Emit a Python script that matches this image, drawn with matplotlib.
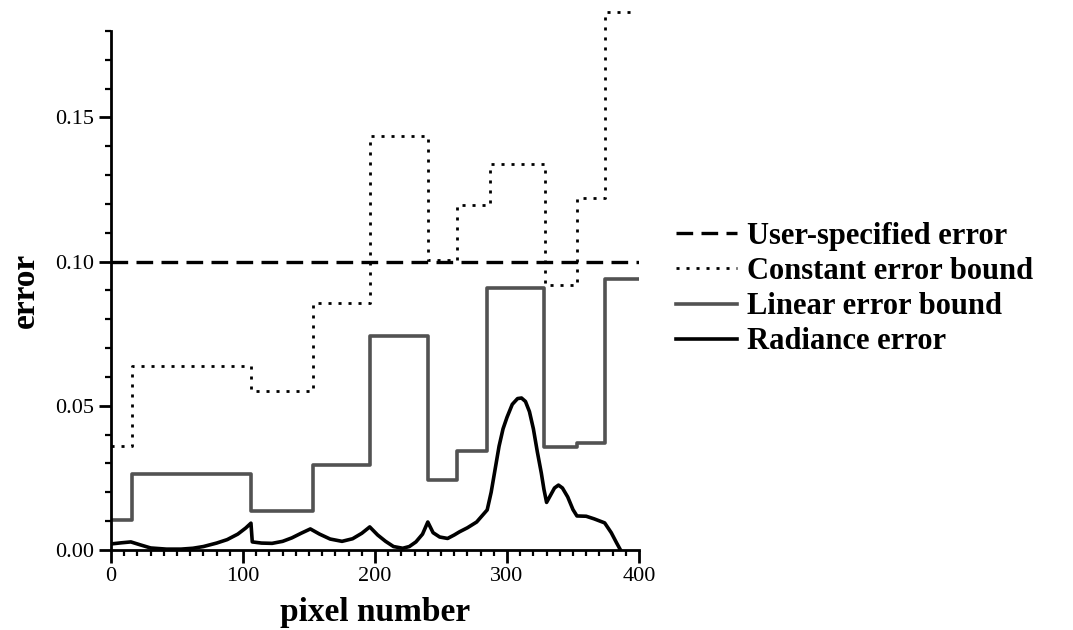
import numpy as np
import matplotlib
matplotlib.use("Agg")
import matplotlib.pyplot as plt
from matplotlib.ticker import MultipleLocator, FormatStrFormatter

plt.rcParams['font.family'] = ['Liberation Serif', 'DejaVu Serif']

# user-specified error
user_err = 0.10

# constant error bound (step edges / levels)
const_edges = [0, 16, 106, 153, 196, 240, 262, 287, 329, 353, 374, 397]
const_vals = [0.036, 0.0638, 0.0552, 0.0857, 0.1437, 0.1006, 0.1197, 0.134, 0.092, 0.122, 0.1867]

# linear error bound
lin_edges = [0, 16, 106, 153, 196, 240, 262, 285, 328, 353, 374, 399]
lin_vals = [0.0104, 0.0264, 0.0135, 0.0295, 0.0741, 0.0243, 0.0343, 0.0909, 0.0357, 0.0371, 0.094]

# radiance error
rad_x = [0, 8, 15, 22, 30, 42, 53, 62, 70, 80, 88, 96, 102, 106, 107, 114, 122, 130, 137,
         144, 151, 158, 166, 175, 183, 190, 196, 202, 208, 214, 221, 226, 231, 236, 240,
         244, 249, 255, 260, 264, 270, 277, 285, 288, 291, 294, 297, 300, 304, 308, 311,
         314, 317, 320, 323, 326, 328, 330, 333, 336, 339, 342, 346, 350, 353, 360, 366,
         374, 379, 383, 386]
rad_y = [0.0021, 0.0025, 0.0028, 0.0018, 0.0007, 0.0003, 0.0003, 0.0006, 0.0012, 0.0024,
         0.0036, 0.0055, 0.0076, 0.0093, 0.0028, 0.0024, 0.0023, 0.003, 0.0042, 0.0058,
         0.0073, 0.0055, 0.0038, 0.003, 0.0039, 0.0058, 0.008, 0.0052, 0.003, 0.0012,
         0.0006, 0.0012, 0.0028, 0.0055, 0.0097, 0.006, 0.0045, 0.004, 0.0052, 0.0063,
         0.0077, 0.0097, 0.0139, 0.02, 0.028, 0.036, 0.042, 0.046, 0.0505, 0.0525, 0.0527,
         0.0515, 0.048, 0.042, 0.034, 0.0267, 0.021, 0.0165, 0.019, 0.0215, 0.0225, 0.0215,
         0.0184, 0.014, 0.0118, 0.0117, 0.0108, 0.0094, 0.006, 0.0025, 0.0]

fig = plt.figure(figsize=(10.73, 6.3), dpi=100)
ax = fig.add_axes([0.1035, 0.127, 0.492, 0.824])

ax.axhline(user_err, xmin=0, xmax=1, color='black', lw=2.4, ls=(0, (5, 2.5)),
           label='User-specified error')
ax.step(const_edges, const_vals + [const_vals[-1]], where='post', color='black', lw=2.0,
        ls=(0, (1.1, 2.5)), clip_on=False, label='Constant error bound')
ax.step(lin_edges, lin_vals + [lin_vals[-1]], where='post', color='0.32', lw=2.6,
        label='Linear error bound')
ax.plot(rad_x, rad_y, color='black', lw=2.6, label='Radiance error')

ax.set_xlim(0, 400)
ax.set_ylim(0, 0.18)
ax.xaxis.set_major_locator(MultipleLocator(100))
ax.xaxis.set_minor_locator(MultipleLocator(10))
ax.yaxis.set_major_locator(MultipleLocator(0.05))
ax.yaxis.set_minor_locator(MultipleLocator(0.01))
ax.yaxis.set_major_formatter(FormatStrFormatter('%.2f'))

for s in ['top', 'right']:
    ax.spines[s].set_visible(False)
for s in ['left', 'bottom']:
    ax.spines[s].set_linewidth(2)
ax.tick_params(which='major', direction='out', length=9, width=2, labelsize=16)
ax.tick_params(which='minor', direction='out', length=4, width=1.6)

ax.set_xlabel('pixel number', fontsize=24, fontweight='bold', labelpad=8)
ax.set_ylabel('error', fontsize=24, fontweight='bold', labelpad=10)

fig.legend(loc='center left', bbox_to_anchor=(0.604, 0.541), frameon=False,
           prop={'size': 22, 'weight': 'bold'}, handlelength=2.0, handletextpad=0.33,
           labelspacing=0.2)

fig.savefig('out.png', dpi=100)
